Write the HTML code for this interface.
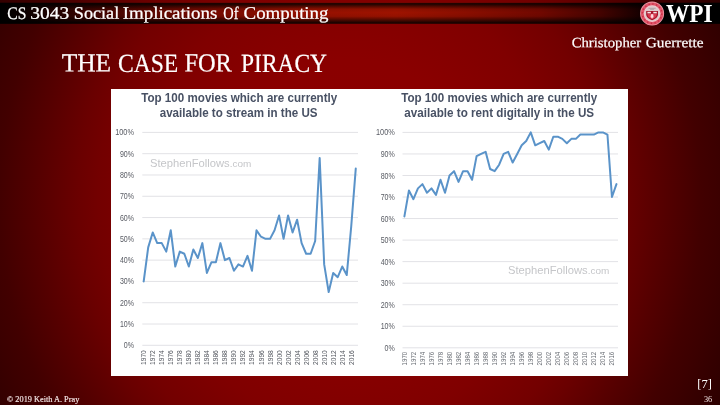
<!DOCTYPE html>
<html><head><meta charset="utf-8"><title>The Case for Piracy</title>
<style>
html,body{margin:0;padding:0;}
body{width:720px;height:405px;overflow:hidden;position:relative;background:#3a0000;font-family:"Liberation Serif",serif;}
#bg{position:absolute;left:0;top:0;width:720px;height:405px;background:radial-gradient(ellipse 420px 470px at 350px 200px,#8c0000 0%,#8a0000 30%,#800000 48%,#730000 60%,#6a0000 65%,#540000 75%,#420000 83.500%,#3c0000 88%,#2a0000 100%);}
#barw{position:absolute;left:0;top:0;width:720px;height:26px;-webkit-mask-image:linear-gradient(to bottom,transparent 2.100px,#000 3.400px,#000 23.300px,transparent 24.500px);mask-image:linear-gradient(to bottom,transparent 2.100px,#000 3.400px,#000 23.300px,transparent 24.500px);}
#bar{position:absolute;left:0;top:2px;width:720px;height:22.5px;background:linear-gradient(to right,#000 0%,#0a0000 3%,#3a0300 12%,#6c0800 25%,#951000 42%,#9e1300 55%,#8a0e00 65%,#720800 75%,#440300 83.500%,#160000 89%,#000 91%,#000 100%);}
#barv{position:absolute;left:0;top:2px;width:720px;height:22.5px;background:linear-gradient(to bottom,rgba(0,0,0,.2) 0%,rgba(0,0,0,.85) 7.5%,rgba(0,0,0,.5) 18%,rgba(0,0,0,.08) 31%,rgba(0,0,0,0) 46%,rgba(0,0,0,.06) 62%,rgba(0,0,0,.45) 76%,rgba(0,0,0,.88) 91.500%,rgba(0,0,0,.7) 96%,rgba(0,0,0,.15) 100%);}
#course{-webkit-text-stroke:.25px #fff;position:absolute;left:7px;top:1px;font-size:17.6px;line-height:24px;color:#fff;white-space:nowrap;transform-origin:0 50%;transform:scaleX(1.039);}
#wpi{position:absolute;left:665.5px;top:-1.300px;font-size:25.500px;line-height:30px;font-weight:bold;color:#fff;white-space:nowrap;transform-origin:0 50%;transform:scaleX(0.915);}
#author{-webkit-text-stroke:.2px #fff;position:absolute;right:17px;top:32.500px;font-size:14.3px;line-height:20px;color:#fff;white-space:nowrap;transform-origin:100% 50%;transform:scaleX(1.06);}
#title{-webkit-text-stroke:.35px #fff;position:absolute;left:61px;top:45px;font-size:25.8px;line-height:36px;color:#fff;white-space:nowrap;transform-origin:0 50%;transform:scaleX(0.95);}
#fig{position:absolute;left:111px;top:89px;width:517px;height:286.5px;background:#fff;}
#copy{position:absolute;left:7px;top:394.700px;font-size:8px;line-height:10px;color:#f4e6e6;white-space:nowrap;transform-origin:0 50%;transform:scaleX(1.035);-webkit-text-stroke:.15px #f4e6e6;}
#ref{position:absolute;right:8.200px;top:376.300px;font-size:12.500px;line-height:16px;color:#fff;white-space:nowrap;}
#num{position:absolute;right:7.800px;top:394.900px;font-size:8.3px;line-height:10px;color:#f0e0e0;white-space:nowrap;}
svg text{font-family:"Liberation Sans",sans-serif;}
svg text.hw,svg text.tw,svg text.aw{font-family:"Liberation Serif",serif;fill:#fff;stroke:#fff;}
.hw{font-size:17.6px;stroke-width:.25px;}
.tw{font-size:26.2px;stroke-width:.22px;}
.aw{font-size:14.3px;stroke-width:.2px;}
.yl{font-size:8.6px;fill:#585b63;}
.xl{font-size:7.2px;fill:#51555d;}
.xl2{font-size:6.6px;fill:#696d74;}
.ct{font-size:12.2px;font-weight:bold;fill:#485164;}
.wm{font-size:10.8px;fill:#c5c6c9;}
.wm2{font-size:9.6px;}
</style></head>
<body>
<div id="bg"></div>
<div id="barw"><div id="bar"></div><div id="barv"></div></div>
<svg id="seal" style="position:absolute;left:639px;top:0px" width="27" height="27" viewBox="-13.100 -13.600 27 27">
<circle r="12" fill="#ee9aa5"/>
<circle r="11.200" fill="#e0566a"/>
<circle r="9.700" fill="none" stroke="#c4233b" stroke-width="1.500" stroke-dasharray="1.300 2.500" opacity=".8"/>
<circle r="8.400" fill="#f3ccd1"/>
<circle r="7.500" fill="#dfc9cb"/>
<path d="M-3.600 -5.300h7.200M-2 -4.300h4" stroke="#a59a9e" stroke-width=".8" fill="none"/>
<path d="M-5.900 -2.700h11.800v3.400c0 2.900-2.700 4.800-5.900 6c-3.200-1.200-5.900-3.100-5.900-6z" fill="#a8122a"/>
<path d="M-4.600 .5h9.200v.4c0 2.200-2.100 3.600-4.600 4.600c-2.500-1-4.600-2.400-4.600-4.600z" fill="#d9394f"/>
<rect x="-4.700" y="-1.800" width="3.500" height="1.600" fill="#f6e4e6"/>
<rect x="1.200" y="-1.800" width="3.500" height="1.600" fill="#f6e4e6"/>
<ellipse cx="0" cy="2.600" rx="1.500" ry="2.400" fill="#f9b4bf"/>
<ellipse cx="0" cy="2.400" rx=".8" ry="1.500" fill="#fde6ea"/>
</svg>
<div id="wpi">WPI</div>
<div id="fig"></div>
<svg style="position:absolute;left:0;top:0" width="720" height="405" viewBox="0 0 720 405">
<line x1="142.3" x2="358" y1="345.30" y2="345.30" stroke="#e2e2e6" stroke-width="1"/>
<text x="123.8" y="348.35" textLength="10.2" lengthAdjust="spacingAndGlyphs" class="yl">0%</text>
<line x1="142.3" x2="358" y1="324.01" y2="324.01" stroke="#e2e2e6" stroke-width="1"/>
<text x="119.9" y="327.06" textLength="14.1" lengthAdjust="spacingAndGlyphs" class="yl">10%</text>
<line x1="142.3" x2="358" y1="302.72" y2="302.72" stroke="#e2e2e6" stroke-width="1"/>
<text x="119.9" y="305.77" textLength="14.1" lengthAdjust="spacingAndGlyphs" class="yl">20%</text>
<line x1="142.3" x2="358" y1="281.43" y2="281.43" stroke="#e2e2e6" stroke-width="1"/>
<text x="119.9" y="284.48" textLength="14.1" lengthAdjust="spacingAndGlyphs" class="yl">30%</text>
<line x1="142.3" x2="358" y1="260.14" y2="260.14" stroke="#e2e2e6" stroke-width="1"/>
<text x="119.9" y="263.19" textLength="14.1" lengthAdjust="spacingAndGlyphs" class="yl">40%</text>
<line x1="142.3" x2="358" y1="238.85" y2="238.85" stroke="#e2e2e6" stroke-width="1"/>
<text x="119.9" y="241.90" textLength="14.1" lengthAdjust="spacingAndGlyphs" class="yl">50%</text>
<line x1="142.3" x2="358" y1="217.56" y2="217.56" stroke="#e2e2e6" stroke-width="1"/>
<text x="119.9" y="220.61" textLength="14.1" lengthAdjust="spacingAndGlyphs" class="yl">60%</text>
<line x1="142.3" x2="358" y1="196.27" y2="196.27" stroke="#e2e2e6" stroke-width="1"/>
<text x="119.9" y="199.32" textLength="14.1" lengthAdjust="spacingAndGlyphs" class="yl">70%</text>
<line x1="142.3" x2="358" y1="174.98" y2="174.98" stroke="#e2e2e6" stroke-width="1"/>
<text x="119.9" y="178.03" textLength="14.1" lengthAdjust="spacingAndGlyphs" class="yl">80%</text>
<line x1="142.3" x2="358" y1="153.69" y2="153.69" stroke="#e2e2e6" stroke-width="1"/>
<text x="119.9" y="156.74" textLength="14.1" lengthAdjust="spacingAndGlyphs" class="yl">90%</text>
<line x1="142.3" x2="358" y1="132.40" y2="132.40" stroke="#e2e2e6" stroke-width="1"/>
<text x="115.2" y="135.45" textLength="18.8" lengthAdjust="spacingAndGlyphs" class="yl">100%</text>
<text transform="translate(146.20,364.9) rotate(-90)" textLength="14.7" lengthAdjust="spacingAndGlyphs" class="xl">1970</text>
<text transform="translate(155.22,364.9) rotate(-90)" textLength="14.7" lengthAdjust="spacingAndGlyphs" class="xl">1972</text>
<text transform="translate(164.25,364.9) rotate(-90)" textLength="14.7" lengthAdjust="spacingAndGlyphs" class="xl">1974</text>
<text transform="translate(173.27,364.9) rotate(-90)" textLength="14.7" lengthAdjust="spacingAndGlyphs" class="xl">1976</text>
<text transform="translate(182.30,364.9) rotate(-90)" textLength="14.7" lengthAdjust="spacingAndGlyphs" class="xl">1978</text>
<text transform="translate(191.32,364.9) rotate(-90)" textLength="14.7" lengthAdjust="spacingAndGlyphs" class="xl">1980</text>
<text transform="translate(200.34,364.9) rotate(-90)" textLength="14.7" lengthAdjust="spacingAndGlyphs" class="xl">1982</text>
<text transform="translate(209.37,364.9) rotate(-90)" textLength="14.7" lengthAdjust="spacingAndGlyphs" class="xl">1984</text>
<text transform="translate(218.39,364.9) rotate(-90)" textLength="14.7" lengthAdjust="spacingAndGlyphs" class="xl">1986</text>
<text transform="translate(227.42,364.9) rotate(-90)" textLength="14.7" lengthAdjust="spacingAndGlyphs" class="xl">1988</text>
<text transform="translate(236.44,364.9) rotate(-90)" textLength="14.7" lengthAdjust="spacingAndGlyphs" class="xl">1990</text>
<text transform="translate(245.46,364.9) rotate(-90)" textLength="14.7" lengthAdjust="spacingAndGlyphs" class="xl">1992</text>
<text transform="translate(254.49,364.9) rotate(-90)" textLength="14.7" lengthAdjust="spacingAndGlyphs" class="xl">1994</text>
<text transform="translate(263.51,364.9) rotate(-90)" textLength="14.7" lengthAdjust="spacingAndGlyphs" class="xl">1996</text>
<text transform="translate(272.54,364.9) rotate(-90)" textLength="14.7" lengthAdjust="spacingAndGlyphs" class="xl">1998</text>
<text transform="translate(281.56,364.9) rotate(-90)" textLength="14.7" lengthAdjust="spacingAndGlyphs" class="xl">2000</text>
<text transform="translate(290.58,364.9) rotate(-90)" textLength="14.7" lengthAdjust="spacingAndGlyphs" class="xl">2002</text>
<text transform="translate(299.61,364.9) rotate(-90)" textLength="14.7" lengthAdjust="spacingAndGlyphs" class="xl">2004</text>
<text transform="translate(308.63,364.9) rotate(-90)" textLength="14.7" lengthAdjust="spacingAndGlyphs" class="xl">2006</text>
<text transform="translate(317.66,364.9) rotate(-90)" textLength="14.7" lengthAdjust="spacingAndGlyphs" class="xl">2008</text>
<text transform="translate(326.68,364.9) rotate(-90)" textLength="14.7" lengthAdjust="spacingAndGlyphs" class="xl">2010</text>
<text transform="translate(335.70,364.9) rotate(-90)" textLength="14.7" lengthAdjust="spacingAndGlyphs" class="xl">2012</text>
<text transform="translate(344.73,364.9) rotate(-90)" textLength="14.7" lengthAdjust="spacingAndGlyphs" class="xl">2014</text>
<text transform="translate(353.75,364.9) rotate(-90)" textLength="14.7" lengthAdjust="spacingAndGlyphs" class="xl">2016</text>
<polyline points="143.70,281.43 148.21,247.37 152.72,232.46 157.24,243.11 161.75,243.11 166.26,251.62 170.77,230.33 175.28,266.53 179.80,251.62 184.31,253.75 188.82,266.53 193.33,249.50 197.84,258.01 202.36,243.11 206.87,272.91 211.38,262.27 215.89,262.27 220.40,243.11 224.92,260.14 229.43,258.01 233.94,270.79 238.45,264.40 242.96,266.53 247.48,255.88 251.99,270.79 256.50,230.33 261.01,236.72 265.52,238.85 270.04,238.85 274.55,230.33 279.06,215.43 283.57,238.85 288.08,215.43 292.60,232.46 297.11,219.69 301.62,243.11 306.13,253.75 310.64,253.75 315.16,240.98 319.67,157.95 324.18,264.40 328.69,292.07 333.20,272.91 337.72,277.17 342.23,266.53 346.74,275.04 351.25,226.08 355.76,168.59" fill="none" stroke="#5a93c9" stroke-width="2" stroke-linejoin="round" stroke-linecap="round"/>
<text x="141.2" y="101.6" textLength="196.10" lengthAdjust="spacingAndGlyphs" class="ct">Top 100 movies which are currently</text>
<text x="159.7" y="116.6" textLength="157.80" lengthAdjust="spacingAndGlyphs" class="ct">available to stream in the US</text>
<text x="150" y="167.4" textLength="101.3" lengthAdjust="spacingAndGlyphs" class="wm">StephenFollows<tspan class="wm2">.com</tspan></text>
<line x1="402.5" x2="618" y1="347.80" y2="347.80" stroke="#e2e2e6" stroke-width="1"/>
<text x="384.6" y="350.85" textLength="10.2" lengthAdjust="spacingAndGlyphs" class="yl">0%</text>
<line x1="402.5" x2="618" y1="326.26" y2="326.26" stroke="#e2e2e6" stroke-width="1"/>
<text x="380.7" y="329.31" textLength="14.1" lengthAdjust="spacingAndGlyphs" class="yl">10%</text>
<line x1="402.5" x2="618" y1="304.72" y2="304.72" stroke="#e2e2e6" stroke-width="1"/>
<text x="380.7" y="307.77" textLength="14.1" lengthAdjust="spacingAndGlyphs" class="yl">20%</text>
<line x1="402.5" x2="618" y1="283.18" y2="283.18" stroke="#e2e2e6" stroke-width="1"/>
<text x="380.7" y="286.23" textLength="14.1" lengthAdjust="spacingAndGlyphs" class="yl">30%</text>
<line x1="402.5" x2="618" y1="261.64" y2="261.64" stroke="#e2e2e6" stroke-width="1"/>
<text x="380.7" y="264.69" textLength="14.1" lengthAdjust="spacingAndGlyphs" class="yl">40%</text>
<line x1="402.5" x2="618" y1="240.10" y2="240.10" stroke="#e2e2e6" stroke-width="1"/>
<text x="380.7" y="243.15" textLength="14.1" lengthAdjust="spacingAndGlyphs" class="yl">50%</text>
<line x1="402.5" x2="618" y1="218.56" y2="218.56" stroke="#e2e2e6" stroke-width="1"/>
<text x="380.7" y="221.61" textLength="14.1" lengthAdjust="spacingAndGlyphs" class="yl">60%</text>
<line x1="402.5" x2="618" y1="197.02" y2="197.02" stroke="#e2e2e6" stroke-width="1"/>
<text x="380.7" y="200.07" textLength="14.1" lengthAdjust="spacingAndGlyphs" class="yl">70%</text>
<line x1="402.5" x2="618" y1="175.48" y2="175.48" stroke="#e2e2e6" stroke-width="1"/>
<text x="380.7" y="178.53" textLength="14.1" lengthAdjust="spacingAndGlyphs" class="yl">80%</text>
<line x1="402.5" x2="618" y1="153.94" y2="153.94" stroke="#e2e2e6" stroke-width="1"/>
<text x="380.7" y="156.99" textLength="14.1" lengthAdjust="spacingAndGlyphs" class="yl">90%</text>
<line x1="402.5" x2="618" y1="132.40" y2="132.40" stroke="#e2e2e6" stroke-width="1"/>
<text x="376.0" y="135.45" textLength="18.8" lengthAdjust="spacingAndGlyphs" class="yl">100%</text>
<text transform="translate(406.90,365.4) rotate(-90)" textLength="13.7" lengthAdjust="spacingAndGlyphs" class="xl xl2">1970</text>
<text transform="translate(415.92,365.4) rotate(-90)" textLength="13.7" lengthAdjust="spacingAndGlyphs" class="xl xl2">1972</text>
<text transform="translate(424.95,365.4) rotate(-90)" textLength="13.7" lengthAdjust="spacingAndGlyphs" class="xl xl2">1974</text>
<text transform="translate(433.97,365.4) rotate(-90)" textLength="13.7" lengthAdjust="spacingAndGlyphs" class="xl xl2">1976</text>
<text transform="translate(443.00,365.4) rotate(-90)" textLength="13.7" lengthAdjust="spacingAndGlyphs" class="xl xl2">1978</text>
<text transform="translate(452.02,365.4) rotate(-90)" textLength="13.7" lengthAdjust="spacingAndGlyphs" class="xl xl2">1980</text>
<text transform="translate(461.04,365.4) rotate(-90)" textLength="13.7" lengthAdjust="spacingAndGlyphs" class="xl xl2">1982</text>
<text transform="translate(470.07,365.4) rotate(-90)" textLength="13.7" lengthAdjust="spacingAndGlyphs" class="xl xl2">1984</text>
<text transform="translate(479.09,365.4) rotate(-90)" textLength="13.7" lengthAdjust="spacingAndGlyphs" class="xl xl2">1986</text>
<text transform="translate(488.12,365.4) rotate(-90)" textLength="13.7" lengthAdjust="spacingAndGlyphs" class="xl xl2">1988</text>
<text transform="translate(497.14,365.4) rotate(-90)" textLength="13.7" lengthAdjust="spacingAndGlyphs" class="xl xl2">1990</text>
<text transform="translate(506.16,365.4) rotate(-90)" textLength="13.7" lengthAdjust="spacingAndGlyphs" class="xl xl2">1992</text>
<text transform="translate(515.19,365.4) rotate(-90)" textLength="13.7" lengthAdjust="spacingAndGlyphs" class="xl xl2">1994</text>
<text transform="translate(524.21,365.4) rotate(-90)" textLength="13.7" lengthAdjust="spacingAndGlyphs" class="xl xl2">1996</text>
<text transform="translate(533.24,365.4) rotate(-90)" textLength="13.7" lengthAdjust="spacingAndGlyphs" class="xl xl2">1998</text>
<text transform="translate(542.26,365.4) rotate(-90)" textLength="13.7" lengthAdjust="spacingAndGlyphs" class="xl xl2">2000</text>
<text transform="translate(551.28,365.4) rotate(-90)" textLength="13.7" lengthAdjust="spacingAndGlyphs" class="xl xl2">2002</text>
<text transform="translate(560.31,365.4) rotate(-90)" textLength="13.7" lengthAdjust="spacingAndGlyphs" class="xl xl2">2004</text>
<text transform="translate(569.33,365.4) rotate(-90)" textLength="13.7" lengthAdjust="spacingAndGlyphs" class="xl xl2">2006</text>
<text transform="translate(578.36,365.4) rotate(-90)" textLength="13.7" lengthAdjust="spacingAndGlyphs" class="xl xl2">2008</text>
<text transform="translate(587.38,365.4) rotate(-90)" textLength="13.7" lengthAdjust="spacingAndGlyphs" class="xl xl2">2010</text>
<text transform="translate(596.40,365.4) rotate(-90)" textLength="13.7" lengthAdjust="spacingAndGlyphs" class="xl xl2">2012</text>
<text transform="translate(605.43,365.4) rotate(-90)" textLength="13.7" lengthAdjust="spacingAndGlyphs" class="xl xl2">2014</text>
<text transform="translate(614.45,365.4) rotate(-90)" textLength="13.7" lengthAdjust="spacingAndGlyphs" class="xl xl2">2016</text>
<polyline points="404.40,216.41 408.91,190.56 413.42,199.17 417.94,188.40 422.45,184.10 426.96,192.71 431.47,188.40 435.98,194.87 440.50,179.79 445.01,192.71 449.52,175.48 454.03,171.17 458.54,181.94 463.06,171.17 467.57,171.17 472.08,179.79 476.59,156.09 481.10,153.94 485.62,151.79 490.13,169.02 494.64,171.17 499.15,164.71 503.66,153.94 508.18,151.79 512.69,162.56 517.20,153.94 521.71,145.32 526.22,141.02 530.74,132.40 535.25,145.32 539.76,143.17 544.27,141.02 548.78,149.63 553.30,136.71 557.81,136.71 562.32,138.86 566.83,143.17 571.34,138.86 575.86,138.86 580.37,134.55 584.88,134.55 589.39,134.55 593.90,134.55 598.42,132.40 602.93,132.40 607.44,134.55 611.95,197.02 616.46,184.10" fill="none" stroke="#5a93c9" stroke-width="2" stroke-linejoin="round" stroke-linecap="round"/>
<text x="401.2" y="102.1" textLength="196.10" lengthAdjust="spacingAndGlyphs" class="ct">Top 100 movies which are currently</text>
<text x="404.3" y="117.1" textLength="189.80" lengthAdjust="spacingAndGlyphs" class="ct">available to rent digitally in the US</text>
<text x="508" y="274" textLength="101.3" lengthAdjust="spacingAndGlyphs" class="wm">StephenFollows<tspan class="wm2">.com</tspan></text>
<text transform="rotate(0.03 7.29 18.7)" x="7.29" y="18.7" textLength="19.06" lengthAdjust="spacingAndGlyphs" class="hw">CS</text>
<text transform="rotate(0.03 30.23 18.7)" x="30.23" y="18.7" textLength="38.88" lengthAdjust="spacingAndGlyphs" class="hw">3043</text>
<text transform="rotate(0.03 73.78 18.7)" x="73.78" y="18.7" textLength="45.47" lengthAdjust="spacingAndGlyphs" class="hw">Social</text>
<text transform="rotate(0.03 122.67 18.7)" x="122.67" y="18.7" textLength="94.62" lengthAdjust="spacingAndGlyphs" class="hw">Implications</text>
<text transform="rotate(0.03 223.36 18.7)" x="223.36" y="18.7" textLength="15.21" lengthAdjust="spacingAndGlyphs" class="hw">Of</text>
<text transform="rotate(0.03 243.55 18.7)" x="243.55" y="18.7" textLength="84.95" lengthAdjust="spacingAndGlyphs" class="hw">Computing</text>
<text transform="rotate(0.03 61.66 71.6)" x="61.66" y="71.6" textLength="49.49" lengthAdjust="spacingAndGlyphs" class="tw">THE</text>
<text transform="rotate(0.03 117.93 71.6)" x="117.93" y="71.6" textLength="60.39" lengthAdjust="spacingAndGlyphs" class="tw">CASE</text>
<text transform="rotate(0.03 184.40 71.6)" x="184.40" y="71.6" textLength="47.54" lengthAdjust="spacingAndGlyphs" class="tw">FOR</text>
<text transform="rotate(0.03 241.08 71.6)" x="241.08" y="71.6" textLength="85.89" lengthAdjust="spacingAndGlyphs" class="tw">PIRACY</text>
<text transform="rotate(0.03 571.69 47.2)" x="571.69" y="47.2" textLength="69.52" lengthAdjust="spacingAndGlyphs" class="aw">Christopher</text>
<text transform="rotate(0.03 645.66 47.2)" x="645.66" y="47.2" textLength="57.88" lengthAdjust="spacingAndGlyphs" class="aw">Guerrette</text>
</svg>
<div id="ref">[7]</div>
<div id="copy">© 2019 Keith A. Pray</div>
<div id="num">36</div>
</body></html>
